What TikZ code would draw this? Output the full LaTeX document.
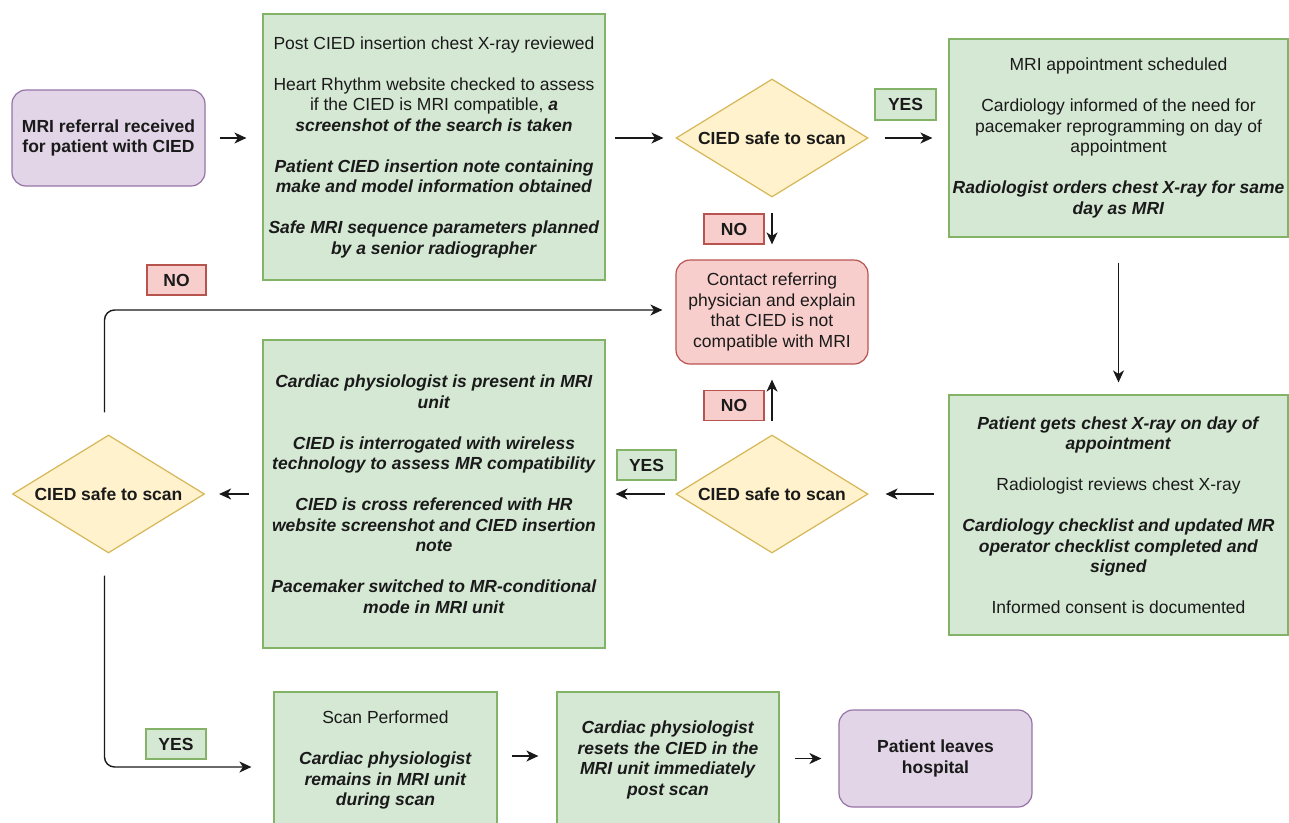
\documentclass[tikz,border=0pt]{standalone}
\usepackage{fontspec}
\setmainfont{Liberation Sans}
\usetikzlibrary{arrows.meta,shapes.geometric}
\newcommand{\fsz}{\fontsize{17.5}{20.5}\selectfont}
\newcommand{\BI}[1]{\textbf{\textit{#1}}}
\definecolor{pfill}{HTML}{E1D5E7}\definecolor{pdraw}{HTML}{9673A6}
\definecolor{gfill}{HTML}{D5E8D4}\definecolor{gdraw}{HTML}{82B366}
\definecolor{rfill}{HTML}{F8CECC}\definecolor{rdraw}{HTML}{B85450}
\definecolor{yfill}{HTML}{FFF2CC}\definecolor{ydraw}{HTML}{D6B656}
\definecolor{txt}{HTML}{1A1A1A}
\tikzset{
  base/.style={font=\fsz, text=txt, align=center, inner sep=0pt, line width=1.2pt},
  greenbox/.style={base, draw=gdraw, fill=gfill},
  purplebox/.style={base, draw=pdraw, fill=pfill, rounded corners=14pt, font=\fsz\bfseries},
  redbox/.style={base, draw=rdraw, fill=rfill, rounded corners=14pt},
  decision/.style={base, diamond, shape aspect=1.63, draw=ydraw, fill=yfill, minimum width=192pt, minimum height=118pt, font=\fsz\bfseries},
  yeslabel/.style={base, draw=gdraw, fill=gfill, font=\fsz\bfseries, minimum width=60pt, minimum height=30pt},
  nolabel/.style={base, draw=rdraw, fill=rfill, font=\fsz\bfseries, minimum width=60pt, minimum height=30pt},
  arr/.style={draw=black!90, line width=1.4pt, -{Stealth[length=12pt,width=11pt,inset=3.5pt]}},
}
\begin{document}
\begin{tikzpicture}[x=1pt,y=-1pt]
\useasboundingbox (0,0) rectangle (1289,822);

\node[purplebox, minimum width=193pt, minimum height=96pt] (start) at (108.5,138)
  {MRI referral received\\for patient with CIED};

\node[greenbox, minimum width=342pt, minimum height=266pt] (box1) at (434,147)
  {Post CIED insertion chest X-ray reviewed\\[20.5pt]
   Heart Rhythm website checked to assess\\
   if the CIED is MRI compatible, \BI{a}\\
   \BI{screenshot of the search is taken}\\[20.5pt]
   \BI{Patient CIED insertion note containing}\\
   \BI{make and model information obtained}\\[20.5pt]
   \BI{Safe MRI sequence parameters planned}\\
   \BI{by a senior radiographer}};

\node[decision] (d1) at (772,138) {CIED safe to scan};

\node[greenbox, minimum width=339pt, minimum height=198pt] (box2) at (1118.5,138)
  {MRI appointment scheduled\\[20.5pt]
   Cardiology informed of the need for\\
   pacemaker reprogramming on day of\\
   appointment\\[20.5pt]
   \BI{Radiologist orders chest X-ray for same}\\
   \BI{day as MRI}};

\node[redbox, minimum width=192pt, minimum height=104pt] (contact) at (772,312)
  {Contact referring\\physician and explain\\that CIED is not\\compatible with MRI};

\node[greenbox, minimum width=339pt, minimum height=240pt] (box3) at (1118.5,515)
  {\BI{Patient gets chest X-ray on day of}\\
   \BI{appointment}\\[20.5pt]
   Radiologist reviews chest X-ray\\[20.5pt]
   \BI{Cardiology checklist and updated MR}\\
   \BI{operator checklist completed and}\\
   \BI{signed}\\[20.5pt]
   Informed consent is documented};

\node[decision] (d2) at (772,494) {CIED safe to scan};

\node[greenbox, minimum width=342pt, minimum height=308pt] (box4) at (434,494)
  {\BI{Cardiac physiologist is present in MRI}\\
   \BI{unit}\\[20.5pt]
   \BI{CIED is interrogated with wireless}\\
   \BI{technology to assess MR compatibility}\\[20.5pt]
   \BI{CIED is cross referenced with HR}\\
   \BI{website screenshot and CIED insertion}\\
   \BI{note}\\[20.5pt]
   \BI{Pacemaker switched to MR-conditional}\\
   \BI{mode in MRI unit}};

\node[decision] (d3) at (108.5,494) {CIED safe to scan};

\node[greenbox, minimum width=223pt, minimum height=136pt] (box5) at (385.5,760)
  {Scan Performed\\[20.5pt]
   \BI{Cardiac physiologist}\\
   \BI{remains in MRI unit}\\
   \BI{during scan}};

\node[greenbox, minimum width=222pt, minimum height=136pt] (box6) at (668,760)
  {\BI{Cardiac physiologist}\\
   \BI{resets the CIED in the}\\
   \BI{MRI unit immediately}\\
   \BI{post scan}};

\node[purplebox, minimum width=193pt, minimum height=97pt] (end) at (935.5,758.5)
  {Patient leaves\\hospital};

% labels
\node[yeslabel, minimum width=61pt, minimum height=31pt] (yes1) at (905.5,104.5) {YES};
\node[nolabel] (no1) at (734,229) {NO};
\node[nolabel] (no3) at (734,405.5) {NO};
\node[yeslabel, minimum width=59pt] (yes2) at (646.5,465) {YES};
\node[nolabel, minimum width=59pt] (no2) at (176.5,280) {NO};
\node[yeslabel] (yes3) at (176,744) {YES};

% connectors
\draw[arr] ([xshift=14pt]start.east) -- ([xshift=-16pt]box1.west |- start.east);
\draw[arr] ([xshift=9pt]box1.east |- d1.west) -- ([xshift=-12pt]d1.west);
\draw[arr] ([xshift=16pt]d1.east) -- ([xshift=-16pt]box2.west |- d1.east);
\draw[arr] ([yshift=-15pt]d1.south) -- ([yshift=15pt]contact.north);
\draw[arr] ([yshift=-25pt]box2.south) -- ([yshift=12pt]box3.north);
\draw[arr] ([xshift=-14pt]box3.west |- d2.east) -- ([xshift=17pt]d2.east);
\draw[arr] ([yshift=13pt]d2.north) -- ([yshift=-15pt]contact.south);
\draw[arr] ([xshift=-10pt]d2.west) -- ([xshift=10pt]box4.east |- d2.west);
\draw[arr] ([xshift=-13pt]box4.west |- d3.east) -- ([xshift=14pt]d3.east);
\draw[arr, rounded corners=10pt] ([xshift=-4pt,yshift=22pt]d3.north) |- ([xshift=-13pt,yshift=2pt]contact.west);
\draw[arr, rounded corners=10pt] ([xshift=-4pt,yshift=-22pt]d3.south) |- ([xshift=-22pt,yshift=-7pt]box5.west);
\draw[arr] ([xshift=14pt,yshift=4pt]box5.east) -- ([xshift=-18pt,yshift=4pt]box6.west);
\draw[arr] ([xshift=15pt,yshift=1.5pt]box6.east) -- ([xshift=-17pt]end.west);
\end{tikzpicture}
\end{document}
